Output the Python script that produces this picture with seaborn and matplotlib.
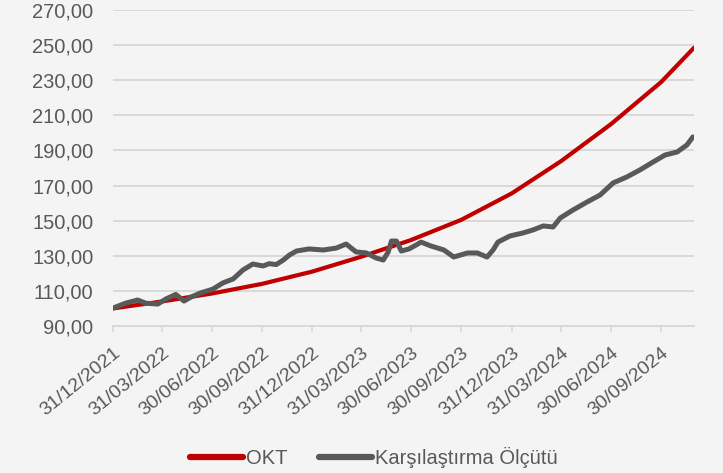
"""
OKT ile karsilastirma olcutunun 31/12/2021 = 100 bazli seyri.
Degerler grafikten okunmustur.
"""
import pandas as pd
import matplotlib
matplotlib.use("Agg")
import matplotlib.pyplot as plt
from matplotlib.ticker import FuncFormatter
import seaborn as sns

# --- OKT (ceyrek sonlari) ---
okt_tarih = ["2021-12-31", "2022-03-31", "2022-06-30", "2022-09-30", "2022-12-31",
             "2023-03-31", "2023-06-30", "2023-09-30", "2023-12-31", "2024-03-31",
             "2024-06-30", "2024-09-30", "2024-11-29"]
okt_deger = [100, 104, 108.5, 114, 121, 129.5, 139, 150.5, 165.5, 184, 205, 229, 248.5]

# --- Karsilastirma Olcutu ---
olcut_tarih = ["2021-12-31", "2022-01-23", "2022-02-14", "2022-03-01", "2022-03-23",
               "2022-04-07", "2022-04-25", "2022-05-10", "2022-05-23", "2022-06-10",
               "2022-07-02", "2022-07-20", "2022-08-08", "2022-08-26", "2022-09-13",
               "2022-10-02", "2022-10-13", "2022-10-26", "2022-11-08", "2022-11-19",
               "2022-12-02", "2022-12-25", "2023-01-20", "2023-02-13", "2023-03-03",
               "2023-03-21", "2023-04-09", "2023-04-27", "2023-05-10", "2023-05-19",
               "2023-05-25", "2023-06-03", "2023-06-12", "2023-06-26", "2023-07-09",
               "2023-07-18", "2023-08-05", "2023-08-29", "2023-09-16", "2023-10-11",
               "2023-10-29", "2023-11-16", "2023-11-27", "2023-12-06", "2023-12-28",
               "2024-01-21", "2024-02-08", "2024-02-27", "2024-03-16", "2024-03-29",
               "2024-04-21", "2024-05-17", "2024-06-10", "2024-07-04", "2024-07-29",
               "2024-08-22", "2024-09-15", "2024-10-07", "2024-10-29", "2024-11-16",
               "2024-11-27"]
olcut_deger = [100.2, 103, 104.8, 103, 102.5,
               105.4, 108, 104.2, 106.5, 108.9,
               111, 114.5, 116.8, 121.9, 125.3,
               124.2, 125.5, 125, 127.6, 130.4,
               132.7, 133.9, 133.3, 134.4, 136.7,
               132.2, 131.6, 128.7, 127.6, 132.2,
               138.4, 138.4, 132.7, 133.9, 136.1,
               137.8, 135.6, 133.3, 129.3, 131.6,
               131.6, 129.3, 133.3, 137.8, 141.3,
               143, 144.7, 147, 146.4, 151.5,
               156, 160.6, 164.6, 171.5, 174.9,
               178.9, 183.4, 187.4, 189.1, 193.1,
               197.7]

seriler = ["OKT", "Karşılaştırma Ölçütü"]
renkler = ["#C00000", "#595959"]

tick_tarih = ["2021-12-31", "2022-03-31", "2022-06-30", "2022-09-30", "2022-12-31",
              "2023-03-31", "2023-06-30", "2023-09-30", "2023-12-31", "2024-03-31",
              "2024-06-30", "2024-09-30"]
tick_etiket = ["31/12/2021", "31/03/2022", "30/06/2022", "30/09/2022", "31/12/2022",
               "31/03/2023", "30/06/2023", "30/09/2023", "31/12/2023", "31/03/2024",
               "30/06/2024", "30/09/2024"]
y_ticks = [90, 110, 130, 150, 170, 190, 210, 230, 250, 270]

df = pd.concat([
    pd.DataFrame({"tarih": pd.to_datetime(okt_tarih), "deger": okt_deger, "seri": seriler[0]}),
    pd.DataFrame({"tarih": pd.to_datetime(olcut_tarih), "deger": olcut_deger, "seri": seriler[1]}),
])

sns.set_theme(style="white")
plt.rcParams["font.family"] = ["Liberation Sans", "DejaVu Sans"]

fig = plt.figure(figsize=(7.23, 4.73), dpi=100, facecolor="#f4f4f5")
ax = fig.add_axes([113 / 723, 1 - 326 / 473, (694 - 113) / 723, 316 / 473])
ax.set_facecolor("none")

sns.lineplot(data=df, x="tarih", y="deger", hue="seri", hue_order=seriler,
             palette=renkler, ax=ax, legend=False, estimator=None)
for line, lw in zip(ax.lines, [3.0, 3.6]):
    line.set_linewidth(lw)
    line.set_solid_capstyle("round")
ax.lines[0].set_zorder(3)
ax.lines[1].set_zorder(4)

ax.set_ylim(90, 270)
ax.set_yticks(y_ticks)
ax.yaxis.set_major_formatter(FuncFormatter(lambda v, p: f"{v:.2f}".replace(".", ",")))
ax.set_xlim(pd.Timestamp(okt_tarih[0]), pd.Timestamp(okt_tarih[-1]))
ax.set_xticks(pd.to_datetime(tick_tarih))
ax.set_xticklabels(tick_etiket, rotation=39, ha="right", rotation_mode="anchor")

ax.grid(axis="y", color="#d9d9d9", linewidth=1.4)
ax.grid(axis="x", visible=False)
for s in ["top", "right", "left"]:
    ax.spines[s].set_visible(False)
ax.spines["bottom"].set_color("#d9d9d9")
ax.spines["bottom"].set_linewidth(1.4)
ax.tick_params(axis="y", length=0, pad=14, labelsize=14.5, labelcolor="#595959")
ax.tick_params(axis="x", bottom=True, length=4.5, width=1.2, color="#d9d9d9",
               pad=9, labelsize=14, labelcolor="#595959")
ax.set_xlabel("")
ax.set_ylabel("")

tutacak = [plt.Line2D([], [], color=c, linewidth=4.5, solid_capstyle="round") for c in renkler]
fig.legend(tutacak, seriler, loc="center", bbox_to_anchor=(0.517, 0.032), ncol=2,
           frameon=False, fontsize=14.5, labelcolor="#595959", handlelength=2.6,
           handletextpad=0.15, columnspacing=1.6)

plt.savefig("out.png", dpi=100, facecolor=fig.get_facecolor())
plt.close()
